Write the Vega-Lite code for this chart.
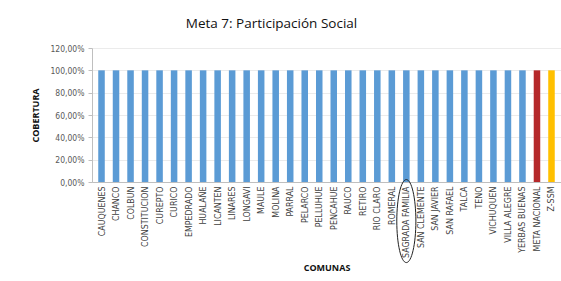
{
  "$schema": "https://vega.github.io/schema/vega-lite/v6.json",
  "width": 469,
  "height": 134,
  "autosize": {"type": "none"},
  "padding": {"left": 92, "top": 48, "right": 0, "bottom": 99},
  "background": "white",
  "config": {
    "view": {"stroke": null},
    "locale": {"number": {"decimal": ",", "thousands": ".", "grouping": [3], "currency": ["$", ""]}},
    "font": "DejaVu Sans Condensed, Liberation Sans, sans-serif"
  },
  "title": {
    "text": "Meta 7: Participación Social",
    "font": "Open Sans",
    "fontSize": 13.5,
    "fontWeight": "normal",
    "color": "#111111",
    "anchor": "middle",
    "dx": -55,
    "offset": 14
  },
  "data": {
    "values": [
      {"comuna": "CAUQUENES", "cobertura": 1, "tipo": "comuna"},
      {"comuna": "CHANCO", "cobertura": 1, "tipo": "comuna"},
      {"comuna": "COLBUN", "cobertura": 1, "tipo": "comuna"},
      {"comuna": "CONSTITUCION", "cobertura": 1, "tipo": "comuna"},
      {"comuna": "CUREPTO", "cobertura": 1, "tipo": "comuna"},
      {"comuna": "CURICO", "cobertura": 1, "tipo": "comuna"},
      {"comuna": "EMPEDRADO", "cobertura": 1, "tipo": "comuna"},
      {"comuna": "HUALAÑE", "cobertura": 1, "tipo": "comuna"},
      {"comuna": "LICANTEN", "cobertura": 1, "tipo": "comuna"},
      {"comuna": "LINARES", "cobertura": 1, "tipo": "comuna"},
      {"comuna": "LONGAVI", "cobertura": 1, "tipo": "comuna"},
      {"comuna": "MAULE", "cobertura": 1, "tipo": "comuna"},
      {"comuna": "MOLINA", "cobertura": 1, "tipo": "comuna"},
      {"comuna": "PARRAL", "cobertura": 1, "tipo": "comuna"},
      {"comuna": "PELARCO", "cobertura": 1, "tipo": "comuna"},
      {"comuna": "PELLUHUE", "cobertura": 1, "tipo": "comuna"},
      {"comuna": "PENCAHUE", "cobertura": 1, "tipo": "comuna"},
      {"comuna": "RAUCO", "cobertura": 1, "tipo": "comuna"},
      {"comuna": "RETIRO", "cobertura": 1, "tipo": "comuna"},
      {"comuna": "RIO CLARO", "cobertura": 1, "tipo": "comuna"},
      {"comuna": "ROMERAL", "cobertura": 1, "tipo": "comuna"},
      {"comuna": "SAGRADA FAMILIA", "cobertura": 1, "tipo": "comuna"},
      {"comuna": "SAN CLEMENTE", "cobertura": 1, "tipo": "comuna"},
      {"comuna": "SAN JAVIER", "cobertura": 1, "tipo": "comuna"},
      {"comuna": "SAN RAFAEL", "cobertura": 1, "tipo": "comuna"},
      {"comuna": "TALCA", "cobertura": 1, "tipo": "comuna"},
      {"comuna": "TENO", "cobertura": 1, "tipo": "comuna"},
      {"comuna": "VICHUQUEN", "cobertura": 1, "tipo": "comuna"},
      {"comuna": "VILLA ALEGRE", "cobertura": 1, "tipo": "comuna"},
      {"comuna": "YERBAS BUENAS", "cobertura": 1, "tipo": "comuna"},
      {"comuna": "META NACIONAL", "cobertura": 1, "tipo": "meta"},
      {"comuna": "Z-SSM", "cobertura": 1, "tipo": "ssm"}
    ]
  },
  "encoding": {
    "x": {
      "field": "comuna",
      "type": "nominal",
      "sort": null,
      "scale": {"paddingInner": 0.55, "paddingOuter": 0.43},
      "axis": {
        "title": "COMUNAS",
        "titleFont": "Open Sans",
        "titleFontSize": 9,
        "titleFontWeight": "bold",
        "titleColor": "#111111",
        "titlePadding": 6,
        "labelAngle": -90,
        "labelFontSize": 8.8,
        "labelColor": "#404040",
        "labelPadding": 4,
        "ticks": false,
        "domainColor": "#BFBFBF"
      }
    },
    "y": {
      "field": "cobertura",
      "type": "quantitative",
      "scale": {"domain": [0, 1.2]},
      "axis": {
        "title": "COBERTURA",
        "titleFont": "Open Sans",
        "titleFontSize": 9,
        "titleFontWeight": "bold",
        "titleColor": "#111111",
        "titlePadding": 9,
        "format": ".2%",
        "values": [0, 0.2, 0.4, 0.6, 0.8, 1.0, 1.2],
        "labelFontSize": 8.5,
        "labelColor": "#595959",
        "labelPadding": 4,
        "tickSize": 4,
        "tickColor": "#BFBFBF",
        "domainColor": "#BFBFBF",
        "gridColor": "#EBEBEB"
      }
    }
  },
  "layer": [
    {
      "mark": {"type": "bar"},
      "encoding": {
        "color": {
          "field": "tipo",
          "type": "nominal",
          "scale": {"domain": ["comuna", "meta", "ssm"], "range": ["#5B9BD5", "#B5282A", "#FFC000"]},
          "legend": null
        }
      }
    },
    {
      "transform": [{"filter": "datum.comuna === 'SAGRADA FAMILIA'"}],
      "mark": {
        "type": "point",
        "shape": "M0,-1 A0.23,1 0 1,1 0,1 A0.23,1 0 1,1 0,-1 Z",
        "filled": false,
        "stroke": "#222222",
        "strokeWidth": 1,
        "size": 6889,
        "clip": false,
        "opacity": 1
      },
      "encoding": {
        "y": {"datum": -0.35}
      }
    }
  ]
}
